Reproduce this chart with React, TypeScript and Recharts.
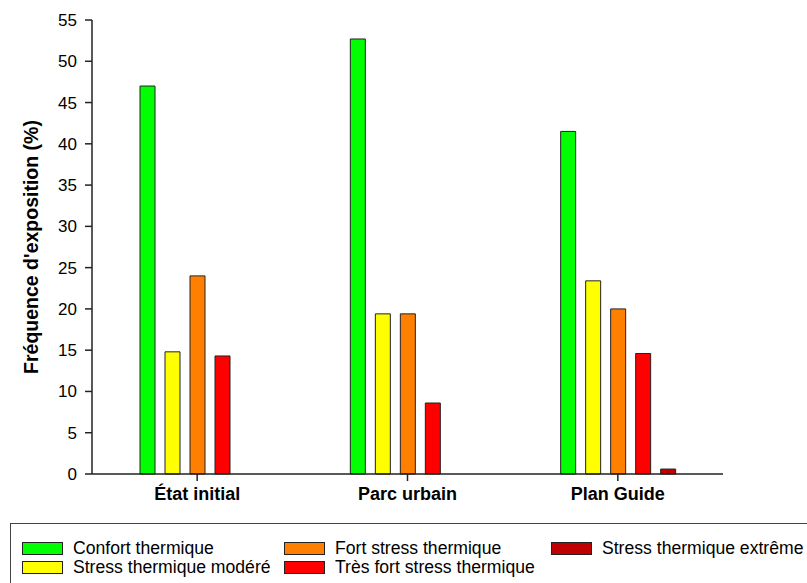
import { BarChart, Bar, XAxis, YAxis, Legend } from "recharts"

const categories = ["État initial", "Parc urbain", "Plan Guide"]

// fréquence d'exposition (%) par classe de stress thermique
const confort = [47.0, 52.7, 41.5]
const stressModere = [14.8, 19.4, 23.4]
const fortStress = [24.0, 19.4, 20.0]
const tresFortStress = [14.3, 8.6, 14.6]
const stressExtreme = [0, 0, 0.6]

const seriesNames = [
    "Confort thermique",
    "Stress thermique modéré",
    "Fort stress thermique",
    "Très fort stress thermique",
    "Stress thermique extrême",
]

const yTicks = [0, 5, 10, 15, 20, 25, 30, 35, 40, 45, 50, 55]

const FONT = "'Liberation Sans', Arial, sans-serif"

const data = categories.map((name, i) => ({
    name,
    confort: confort[i],
    modere: stressModere[i],
    fort: fortStress[i],
    tresFort: tresFortStress[i],
    extreme: stressExtreme[i],
}))

function LegendBox({ payload }: any) {
    // garder l'ordre des séries (recharts trie par nom sinon)
    const items = [...(payload || [])].sort(
        (a: any, b: any) => seriesNames.indexOf(a.value) - seriesNames.indexOf(b.value)
    )
    return (
        <div
            style={{
                border: "1px solid #444",
                width: 820,
                height: 80,
                boxSizing: "border-box",
                paddingLeft: 11,
                paddingTop: 15,
                display: "grid",
                gridTemplateColumns: "262px 267px auto",
                gridTemplateRows: "18.7px 18.7px",
                gridAutoFlow: "column",
                fontFamily: FONT,
                fontSize: 17.6,
                color: "#000",
            }}
        >
            {items.map((entry: any) => (
                <div key={entry.value} style={{ display: "flex", alignItems: "center", whiteSpace: "nowrap" }}>
                    <span
                        style={{
                            display: "inline-block",
                            width: 41,
                            height: 13,
                            boxSizing: "border-box",
                            background: entry.color,
                            border: "1px solid #222",
                            marginRight: 10,
                        }}
                    />
                    <span>{entry.value}</span>
                </div>
            ))}
        </div>
    )
}

export default function App() {
    const barProps = { stroke: "#222", strokeWidth: 1, isAnimationActive: false }
    return (
        <div style={{ position: "absolute", left: 0, top: 0, width: 807, height: 583, overflow: "hidden", background: "#fff" }}>
            <BarChart
                width={807}
                height={583}
                data={data}
                margin={{ top: 20, right: 84, left: 0, bottom: 69 }}
                barSize={15}
                barGap={10}
            >
                <XAxis
                    dataKey="name"
                    stroke="#222"
                    strokeWidth={1.5}
                    tickSize={7}
                    tickMargin={6}
                    height={40}
                    tick={{ fontSize: 18, fontWeight: "bold", fill: "#000", fontFamily: FONT }}
                />
                <XAxis xAxisId="top" orientation="top" dataKey="name" height={0} tick={false} tickLine={false} stroke="#888" />
                <YAxis
                    domain={[0, 55]}
                    ticks={yTicks}
                    interval={0}
                    width={92}
                    stroke="#222"
                    strokeWidth={1.5}
                    tickSize={7}
                    tickMargin={8}
                    tick={{ fontSize: 17, fill: "#000", fontFamily: FONT }}
                    label={{
                        content: () => (
                            <text
                                x={31}
                                y={247}
                                transform="rotate(-90 31 247)"
                                textAnchor="middle"
                                dominantBaseline="central"
                                fontFamily={FONT}
                                fontSize={19.5}
                                fontWeight="bold"
                                fill="#000"
                            >
                                Fréquence d'exposition (%)
                            </text>
                        ),
                    }}
                />
                <YAxis yAxisId="right" orientation="right" width={0} tick={false} tickLine={false} stroke="#555" domain={[0, 55]} />
                <Bar dataKey="confort" name={seriesNames[0]} fill="#00ff00" {...barProps} />
                <Bar dataKey="modere" name={seriesNames[1]} fill="#ffff00" {...barProps} />
                <Bar dataKey="fort" name={seriesNames[2]} fill="#ff8000" {...barProps} />
                <Bar dataKey="tresFort" name={seriesNames[3]} fill="#ff0000" {...barProps} />
                <Bar dataKey="extreme" name={seriesNames[4]} fill="#c00000" {...barProps} />
                <Legend
                    layout="horizontal"
                    verticalAlign="middle"
                    align="center"
                    content={LegendBox}
                    wrapperStyle={{ position: "absolute", left: 10, top: 523, width: 820, height: 80, margin: 0 }}
                />
            </BarChart>
        </div>
    )
}
